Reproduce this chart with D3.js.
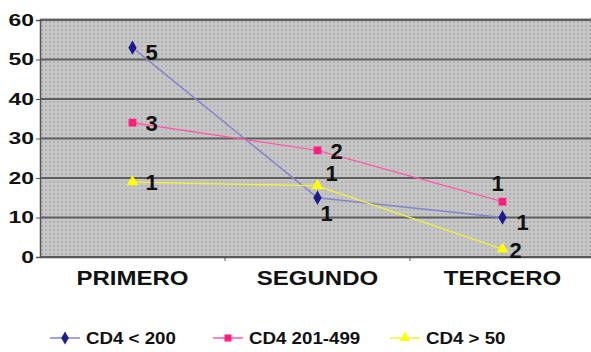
<!DOCTYPE html>
<html>
<head>
<meta charset="utf-8">
<script src="https://cdn.jsdelivr.net/npm/d3@7"></script>
<style>
  html, body { margin: 0; padding: 0; background: #fff; }
  svg { display: block; }
  text { font-family: "Liberation Sans", Arial, sans-serif; fill: #111; }
</style>
</head>
<body>
<svg id="chart" width="591" height="352"></svg>
<script>
// Categories and series
const categories = ["PRIMERO", "SEGUNDO", "TERCERO"];
const seriesNames = ["CD4 < 200", "CD4 201-499", "CD4 > 50"];
const cd4Low = [53, 15, 10];
const cd4Mid = [34, 27, 14];
const cd4High = [19, 18, 2];
// Point labels shown beside each marker
const labelsLow = ["5", "1", "1"];
const labelsMid = ["3", "2", "1"];
const labelsHigh = ["1", "1", "2"];
const yTicks = [0, 10, 20, 30, 40, 50, 60];

const svg = d3.select("#chart");
const plotLeft = 40, plotRight = 595, plotTop = 20, plotBottom = 257;

const x = d3.scaleBand().domain(categories).range([plotLeft, plotRight]);
const y = d3.scaleLinear().domain([0, 60]).range([plotBottom, plotTop]);

// Widen glyphs horizontally by a factor, keeping each text's anchor
function stretch(sel, factor) {
  sel.each(function () {
    const len = this.getComputedTextLength();
    d3.select(this).attr("textLength", len * factor).attr("lengthAdjust", "spacingAndGlyphs");
  });
}

// Dotted grey plot background
const defs = svg.append("defs");
const pat = defs.append("pattern").attr("id", "dots")
  .attr("width", 4).attr("height", 4).attr("patternUnits", "userSpaceOnUse");
pat.append("rect").attr("width", 4).attr("height", 4).attr("fill", "#c6c6c6");
pat.append("rect").attr("x", 1).attr("y", 1).attr("width", 2).attr("height", 2).attr("fill", "#b2b2b2");
const clip = defs.append("clipPath").attr("id", "plotclip");
clip.append("rect").attr("x", plotLeft).attr("y", plotTop - 3)
  .attr("width", plotRight - plotLeft).attr("height", plotBottom - plotTop + 4);

svg.append("rect")
  .attr("x", plotLeft).attr("y", plotTop - 2)
  .attr("width", plotRight - plotLeft).attr("height", plotBottom - plotTop + 3)
  .attr("fill", "url(#dots)");

// Horizontal gridlines
svg.append("g").selectAll("line").data(yTicks).join("line")
  .attr("x1", plotLeft).attr("x2", plotRight)
  .attr("y1", d => y(d)).attr("y2", d => y(d))
  .attr("stroke", "#5e5e5e").attr("stroke-width", 2);

// Y axis
const yAxis = d3.axisLeft(y).tickValues(yTicks).tickSize(4).tickPadding(2);
const gy = svg.append("g").attr("transform", `translate(${plotLeft},0)`).call(yAxis);
gy.select(".domain").attr("stroke", "#555").attr("stroke-width", 1.5);
gy.selectAll(".tick line").attr("stroke", "#555");
gy.selectAll(".tick text")
  .attr("font-size", 17).attr("font-weight", "bold")
  .attr("font-family", "Liberation Sans, Arial, sans-serif")
  .attr("fill", "#111")
  .call(stretch, 1.35);

// X axis
const xAxis = d3.axisBottom(x).tickSize(0).tickPadding(14);
const gx = svg.append("g").attr("transform", `translate(0,${plotBottom})`).call(xAxis);
gx.select(".domain").attr("stroke", "#555").attr("stroke-width", 1.5);
gx.selectAll(".tick text")
  .attr("font-size", 20).attr("font-weight", "bold")
  .attr("font-family", "Liberation Sans, Arial, sans-serif")
  .attr("fill", "#111")
  .call(stretch, 1.2);
// Category separator ticks
svg.append("g").selectAll("line").data(categories.slice(1)).join("line")
  .attr("x1", d => x(d)).attr("x2", d => x(d))
  .attr("y1", plotBottom).attr("y2", plotBottom + 4)
  .attr("stroke", "#555");

const series = [
  { name: seriesNames[0], values: cd4Low, labels: labelsLow, line: "#8484d0", mark: "#1c1c8c", shape: d3.symbolDiamond,
    off: [[19, 5], [9, 16], [20, 5]] },
  { name: seriesNames[1], values: cd4Mid, labels: labelsMid, line: "#ff5aa8", mark: "#ff1f80", shape: d3.symbolSquare,
    off: [[19, 1], [19, 1], [-5, -18]] },
  { name: seriesNames[2], values: cd4High, labels: labelsHigh, line: "#f0f040", mark: "#ffff00", shape: d3.symbolTriangle,
    off: [[19, 1], [14, -12], [13, 1]] }
];

const cx = c => x(c) + x.bandwidth() / 2;
const line = d3.line().x((d, i) => cx(categories[i])).y(d => y(d));

const plot = svg.append("g").attr("clip-path", "url(#plotclip)");
series.forEach(s => {
  plot.append("path").datum(s.values)
    .attr("d", line).attr("fill", "none")
    .attr("stroke", s.line).attr("stroke-width", 1.4);
});
series.forEach(s => {
  plot.append("g").selectAll("path").data(s.values).join("path")
    .attr("transform", (d, i) => `translate(${cx(categories[i])},${y(d)})`)
    .attr("d", d3.symbol().type(s.shape).size(60))
    .attr("fill", s.mark);
  svg.append("g").selectAll("text").data(s.values).join("text")
    .attr("x", (d, i) => cx(categories[i]) + s.off[i][0])
    .attr("y", (d, i) => y(d) + s.off[i][1])
    .attr("text-anchor", "middle").attr("dominant-baseline", "central")
    .attr("font-size", 22).attr("font-weight", "bold")
    .text((d, i) => s.labels[i]);
});

// Legend
const legendX = [50, 213, 390];
const legendY = 338;
series.forEach((s, i) => {
  const g = svg.append("g").attr("transform", `translate(${legendX[i]},${legendY})`);
  g.append("line").attr("x1", 0).attr("x2", 30).attr("y1", 0).attr("y2", 0)
    .attr("stroke", s.line).attr("stroke-width", 1.5);
  g.append("path").attr("transform", "translate(15,0)")
    .attr("d", d3.symbol().type(s.shape).size(50)).attr("fill", s.mark);
  g.append("text").attr("x", 36).attr("y", 0).attr("dominant-baseline", "central")
    .attr("font-size", 17).attr("font-weight", "bold").text(s.name)
    .call(stretch, 1.1);
});
</script>
</body>
</html>
